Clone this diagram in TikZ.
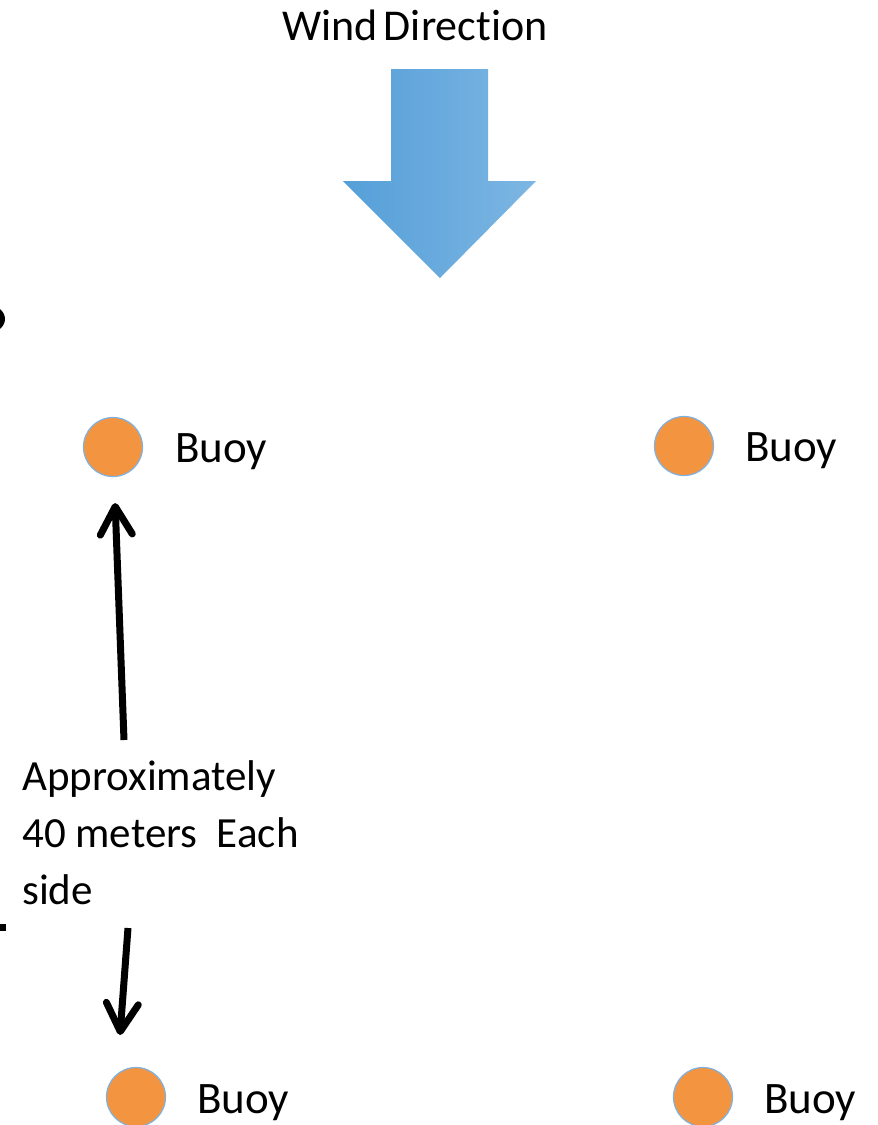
\documentclass[tikz,border=0pt]{standalone}
\usepackage{fontspec}
\setmainfont[Ligatures=NoCommon]{Carlito}
\usetikzlibrary{arrows.meta}

\definecolor{buoyfill}{HTML}{F39441}
\definecolor{buoyline}{HTML}{7FB2E0}
\definecolor{windL}{HTML}{559FD8}
\definecolor{windR}{HTML}{7DB6E3}

\tikzset{
    buoy/.style={circle,fill=buoyfill,draw=buoyline,line width=1.2pt,minimum size=59pt,inner sep=0pt},
    buoylabel/.style={anchor=base west,inner sep=0pt,font=\fontsize{45}{54}\selectfont},
    measure/.style={line width=7pt,-{Straight Barb[length=28pt,width=32pt,line join=round,line cap=round]}},
}

\begin{document}
\begin{tikzpicture}[x=1pt,y=-1pt]
    \useasboundingbox (0,0) rectangle (878,1125);
    % wind
    \node at (415,40) [anchor=base,inner sep=0pt,font=\fontsize{44}{52}\selectfont] (wind) {Wind\kern-4pt\ Direction};
    \shade[left color=windL,right color=windR] (391,69) -- (488,69) -- (488,181) -- (536,181) -- (440,278)
        -- (343,181) -- (391,181) -- cycle;
    % buoys
    \node at (113,447) [buoy] (buoyTL) {};
    \node at (684,446) [buoy] (buoyTR) {};
    \node at (136,1097) [buoy] (buoyBL) {};
    \node at (703,1097) [buoy] (buoyBR) {};
    \node at (175,462) [buoylabel] (lblTL) {Buoy};
    \node at (745,461) [buoylabel] (lblTR) {Buoy};
    \node at (197,1113) [buoylabel] (lblBL) {Buoy};
    \node at (764,1113) [buoylabel] (lblBR) {Buoy};
    % distance
    \node at (22,760) [anchor=north west,inner sep=0pt,align=left,font=\fontsize{43}{57}\selectfont] (dist)
        {Approximately\\40 meters\ \ Each\\side};
    \coordinate (upbase) at (124,740);
    \coordinate (dntop) at (128,928);
    \coordinate (dntip) at (120,1035);
    \draw[measure,shorten >=26pt] (upbase) -- (buoyTL);
    \draw[measure] (dntop) -- (dntip);
    % cut off bits at the left edge
    \fill (-12,319) ellipse (17pt and 14pt);
    \fill (0,924) rectangle (6,931);
\end{tikzpicture}
\end{document}
